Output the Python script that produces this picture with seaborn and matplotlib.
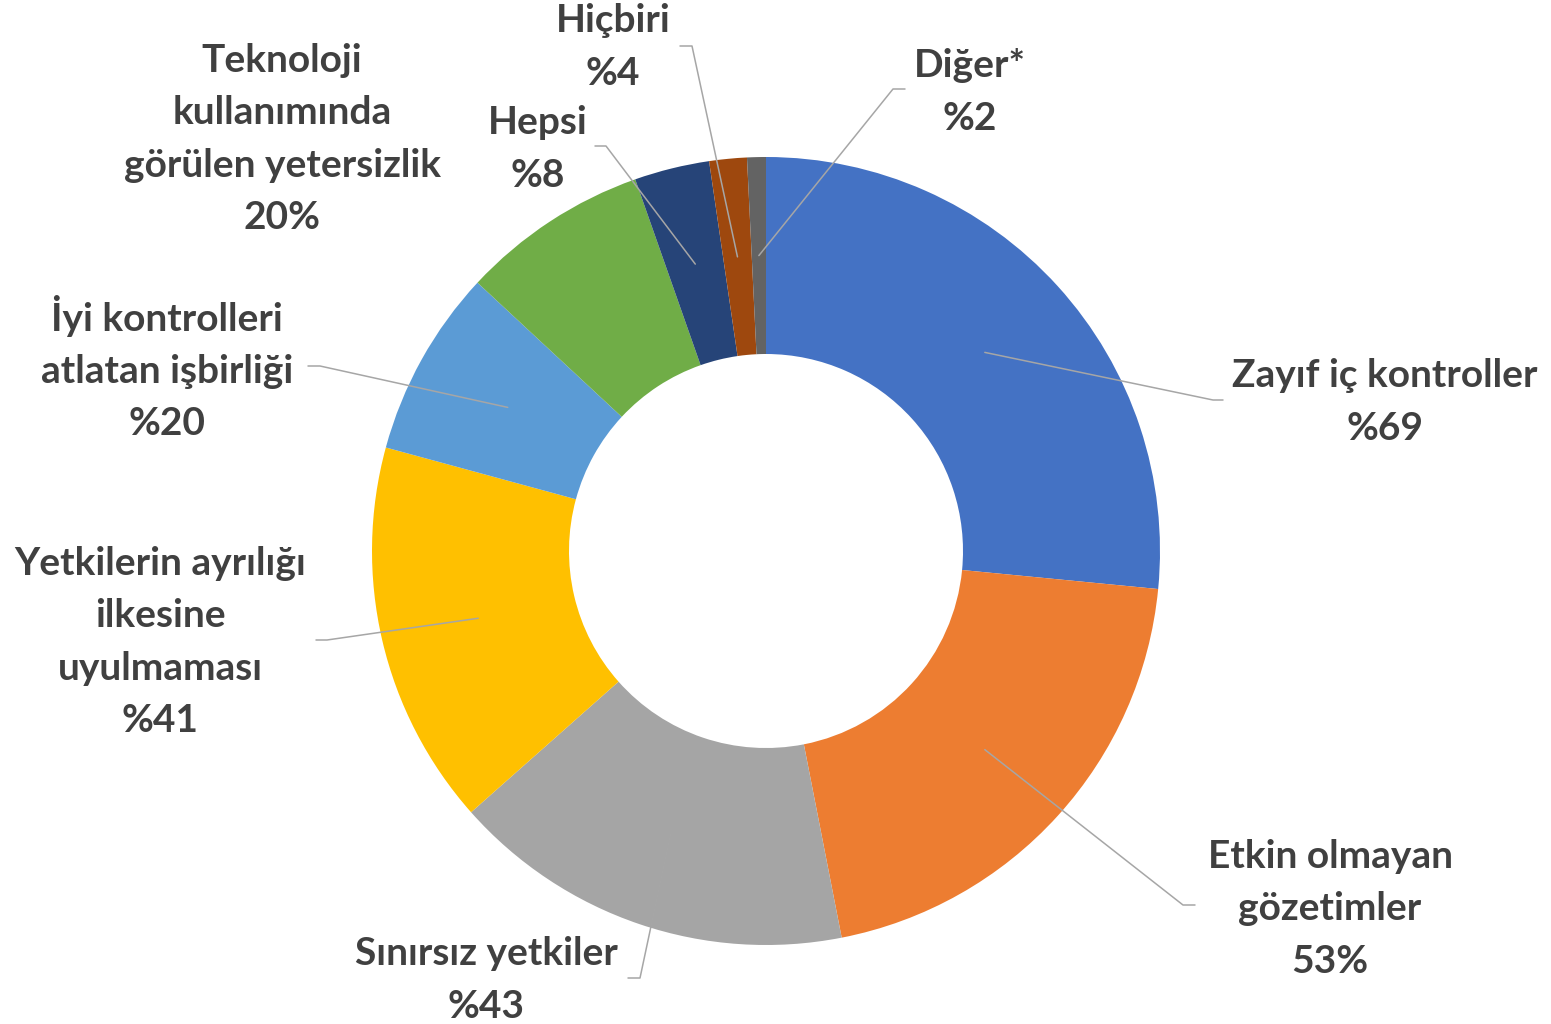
import numpy as np
import matplotlib
matplotlib.use("Agg")
import matplotlib.pyplot as plt
import seaborn as sns

"""
Data
"""
categories = ["Zayıf iç kontroller", "Etkin olmayan\ngözetimler", "Sınırsız yetkiler",
              "Yetkilerin ayrılığı\nilkesine\nuyulmaması", "İyi kontrolleri\natlatan işbirliği",
              "Teknoloji\nkullanımında\ngörülen yetersizlik", "Hepsi", "Hiçbiri", "Diğer*"]
values = [69, 53, 43, 41, 20, 20, 8, 4, 2]
value_labels = ["%69", "53%", "%43", "%41", "%20", "20%", "%8", "%4", "%2"]
colors = ["#4472C4", "#ED7D31", "#A5A5A5", "#FFC000", "#5B9BD5",
          "#70AD47", "#264478", "#9E480E", "#636363"]

# label layout in pixel coords (x, y from top): text centre, elbow of leader line, horizontal end
text_pos = [(1385, 402), (1330, 909), (486, 980), (160, 642), (167, 368),
            (282, 139), (538, 149), (613, 47), (970, 92)]
elbows = [(1213, 400), (1183, 905), (640, 978), (327, 640), (320, 366),
          None, (606, 146), (692, 46), (893, 89)]
ends = [1223, 1195, 628, 316, 308, None, 595, 680, 905]

W, H = 1551, 1024
cx, cy, R = 766, 551, 394

sns.set_theme(style="white")
plt.rcParams['font.family'] = ['Lato', 'DejaVu Sans']

fig = plt.figure(figsize=(W / 100, H / 100), dpi=100)
ax = fig.add_axes([0, 0, 1, 1])

wedges, _ = ax.pie(values, colors=colors, startangle=90, counterclock=False,
                   center=(cx, H - cy), radius=R,
                   wedgeprops=dict(width=R * 0.5, linewidth=0))
ax.set_xlim(0, W)
ax.set_ylim(0, H)
ax.set_aspect('equal')
ax.axis('off')

for i, w in enumerate(wedges):
    lab = categories[i] + "\n" + value_labels[i]
    tx, ty = text_pos[i]
    ax.text(tx, H - ty, lab, ha='center', va='center', fontsize=28,
            fontweight='bold', color='#404040', linespacing=1.6)
    if elbows[i] is None:
        continue
    ang = np.deg2rad((w.theta1 + w.theta2) / 2)
    sx = cx + 0.75 * R * np.cos(ang)
    sy = (H - cy) + 0.75 * R * np.sin(ang)
    ex, ey = elbows[i]
    ax.plot([sx, ex, ends[i]], [sy, H - ey, H - ey], color='#A6A6A6', lw=1.1)

fig.savefig("out.png", dpi=100)
